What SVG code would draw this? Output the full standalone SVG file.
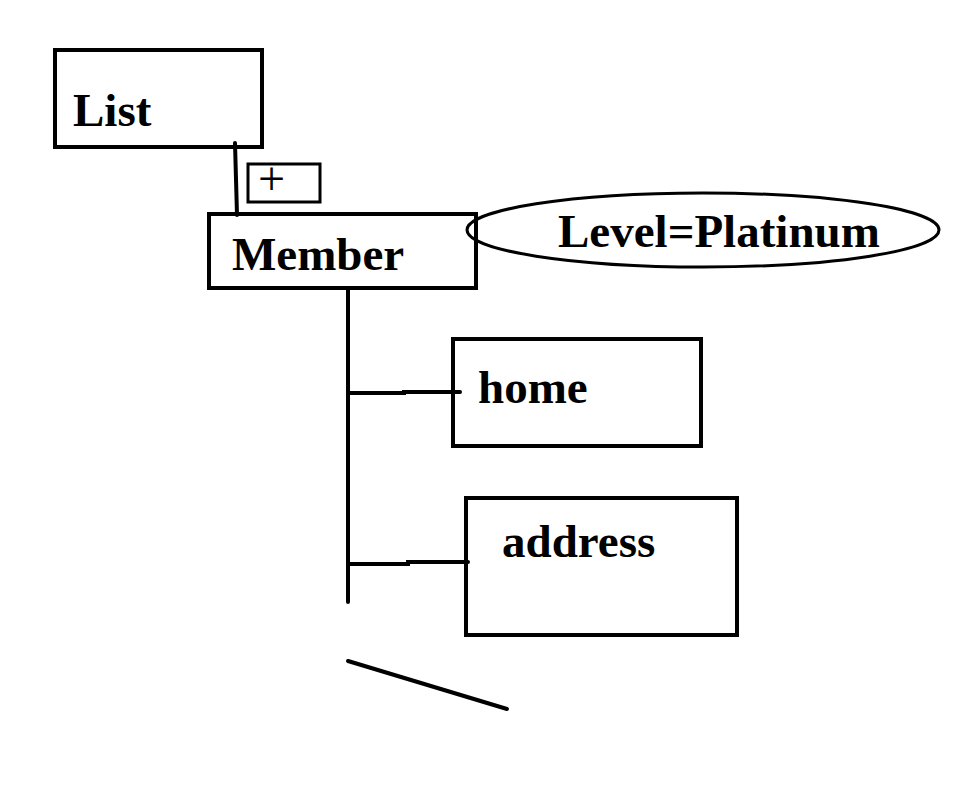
<svg xmlns="http://www.w3.org/2000/svg" width="965" height="786" viewBox="0 0 965 786">
<style>
.box{fill:none;stroke:#000;stroke-width:4}
.lbl{font-family:"Liberation Serif","Times New Roman",serif;font-weight:bold;font-size:47px;fill:#000}
.ln{stroke:#000;stroke-width:4;fill:none;stroke-linecap:round}
</style>
<rect width="965" height="786" fill="#fff"/>
<g id="connectors">
<path class="ln" d="M235,143 L237,215"/>
<path class="ln" d="M348,289 L348,602"/>
<path class="ln" d="M348,393 L404,393 L404,392 L460,392"/>
<path class="ln" d="M348,564 L408,564 L408,562 L468,562"/>
<path class="ln" d="M348,661 L507,709"/>
</g>
<g id="list">
<rect class="box" x="55" y="50" width="207" height="97"/>
<text class="lbl" x="73" y="126">List</text>
</g>
<g id="plus">
<rect x="248" y="164" width="72" height="38" fill="none" stroke="#000" stroke-width="3"/>
<text x="258" y="195" font-family="'Liberation Serif','Times New Roman',serif" font-size="48" fill="#000">+</text>
</g>
<g id="member">
<rect class="box" x="209" y="214" width="267" height="74"/>
<text class="lbl" x="232" y="270">Member</text>
</g>
<g id="level">
<ellipse cx="703" cy="230" rx="236" ry="37" fill="none" stroke="#000" stroke-width="3"/>
<text class="lbl" x="558" y="247">Level=Platinum</text>
</g>
<g id="home">
<rect class="box" x="453" y="339" width="248" height="107"/>
<text class="lbl" x="478" y="403">home</text>
</g>
<g id="address">
<rect class="box" x="466" y="498" width="271" height="137"/>
<text class="lbl" x="502" y="557">address</text>
</g>
</svg>
